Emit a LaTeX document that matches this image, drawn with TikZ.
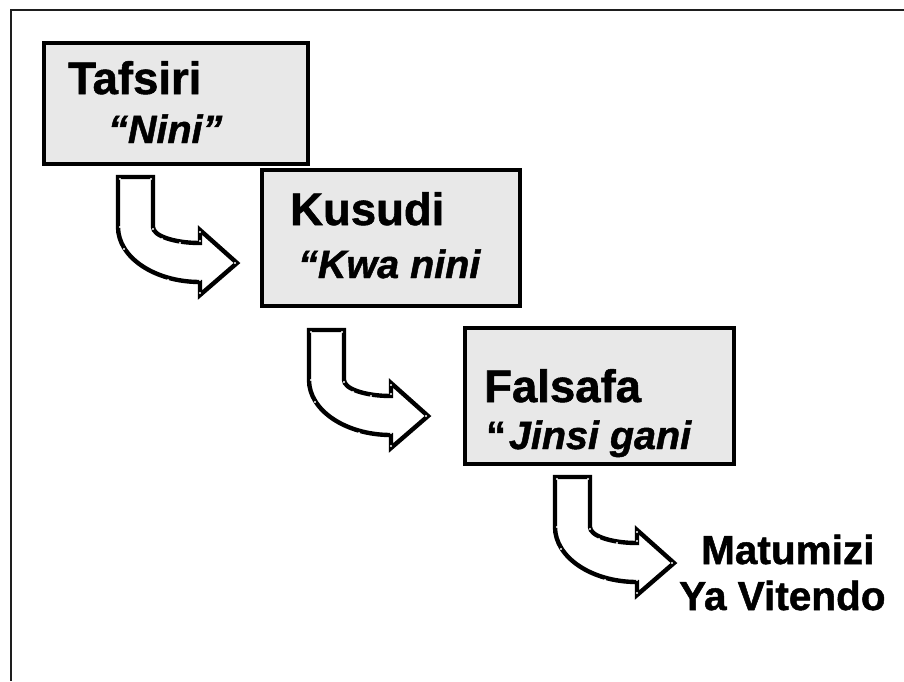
\documentclass[tikz,border=0pt]{standalone}
\usepackage{fontspec}
\setmainfont{Liberation Sans}[BoldFeatures={FakeBold=1.2},BoldItalicFeatures={FakeBold=1.2}]
\definecolor{boxfill}{RGB}{232,232,232}
\definecolor{framecol}{RGB}{30,30,30}
\tikzset{
  box/.style={draw=black, line width=3.5pt, fill=boxfill, inner sep=0pt, anchor=north west},
  head/.style={anchor=base west, inner sep=0pt, font=\fontsize{45.5}{50}\selectfont\bfseries},
  sub/.style={anchor=base west, inner sep=0pt, font=\fontsize{39.5}{45}\selectfont\bfseries\itshape},
  last/.style={anchor=base west, inner sep=0pt, font=\fontsize{40.5}{45}\selectfont\bfseries},
  arrowshape/.style={draw=black, line width=4.4pt, fill=white, line join=miter},
  vdot/.style={fill=white, draw=none},
  bentarrow/.pic={
    \path[arrowshape] (0,0) -- (35,0) -- (35,50)
      .. controls (35,58.8) and (56,66) .. (82,66) -- (82,53) -- (119,86)
      -- (82,118) -- (82,105) .. controls (36.7,105) and (0,80.4) .. (0,50) -- cycle;
    \foreach \p in {(2,2),(33,2),(35,52),(44,62),(62,66),(82,64),(82,55),(117,86),(82,116),(82,103),(50,103),(24,95),(6,72),(2,50)}
      \fill[vdot] \p circle (1.1);
  }
}
\begin{document}
\begin{tikzpicture}[x=1pt,y=-1pt]
\useasboundingbox (0,0) rectangle (904,681);
\draw[framecol, line width=2pt] (904,10) -- (11,10) -- (11,681);

\node[box, minimum width=264pt, minimum height=121pt] (b1) at (42,41) {};
\node[box, minimum width=258pt, minimum height=136pt] (b2) at (260,168) {};
\node[box, minimum width=269pt, minimum height=136pt] (b3) at (463,326) {};

\node[head] (t1) at (68,94) {Tafsiri};
\node[sub] (s1) at (108,143) {“Nini”};
\node[head] (t2) at (290,225) {Kusudi};
\node[sub] (s2) at (298,278) {“Kwa nini};
\node[head] (t3) at (484,402) {Falsafa};
\node[sub] (s3) at (486,449) {{\upshape “}\hspace{3pt}Jinsi gani};
\node[last] (m1) at (701,564) {Matumizi};
\node[last] (m2) at (679,610) {Ya Vitendo};

\pic at (118,177) {bentarrow};
\pic at (309,330) {bentarrow};
\pic at (555,477) {bentarrow};
\end{tikzpicture}
\end{document}
